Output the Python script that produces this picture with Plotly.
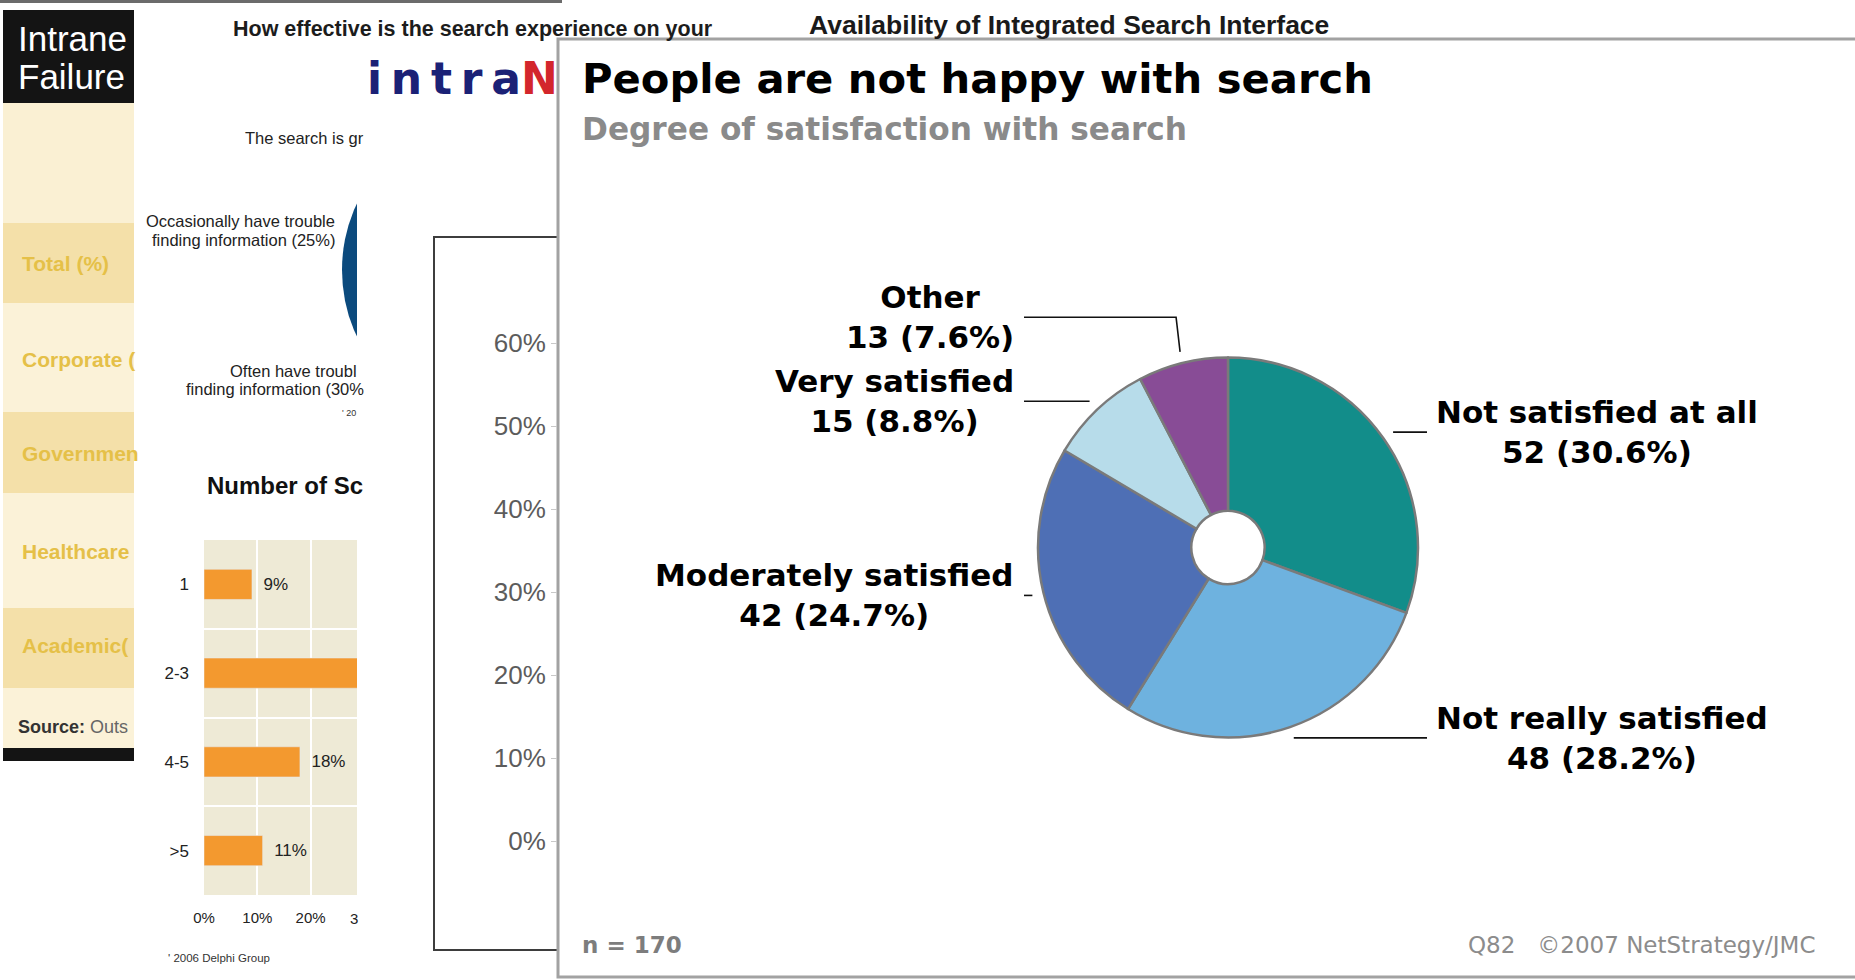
import math
import plotly.graph_objects as go

W, H = 1855, 980

# ---------------- main chart data ----------------
slice_labels = ["Not satisfied at all", "Not really satisfied", "Moderately satisfied",
                "Very satisfied", "Other"]
slice_counts = [52, 48, 42, 15, 13]
slice_colors = ["#128d8a", "#6eb2df", "#4e6fb5", "#b7dcea", "#884c96"]
main_title = "People are not happy with search"
main_subtitle = "Degree of satisfaction with search"
sample_note = "n = 170"
credit_note = "Q82   ©2007 NetStrategy/JMC"

# ---------------- background collage data ----------------
bar_categories = ["1", "2-3", "4-5", ">5"]
bar_values = [9, 62, 18, 11]
bar_tick_values = [0, 10, 20]
bar_tick_labels = ["0%", "10%", "20%"]
pct_axis_values = [0, 10, 20, 30, 40, 50, 60]
pct_axis_labels = ["0%", "10%", "20%", "30%", "40%", "50%", "60%"]
table_rows = ["Total (%)", "Corporate (", "Governmen", "Healthcare", "Academic("]
table_row_y = [263, 359, 453, 551, 645]

MAIN = "DejaVu Sans"
ARIAL = "Liberation Sans, Arial, sans-serif"
NARROW = "Liberation Sans Narrow, Arial Narrow, Liberation Sans, sans-serif"


def px(x):
    return x / W


def py(y):
    return 1 - y / H


shapes = []
annotations = []


def rect(x0, y0, x1, y1, fill, line_color="rgba(0,0,0,0)", line_width=0):
    shapes.append(dict(type="rect", xref="paper", yref="paper",
                       x0=px(x0), x1=px(x1), y0=py(y1), y1=py(y0),
                       fillcolor=fill, line=dict(color=line_color, width=line_width),
                       layer="below"))


def note(text, x, y, size, color="#000", family=MAIN, xanchor="left", align="left"):
    annotations.append(dict(text=text, x=px(x), y=py(y), xref="paper", yref="paper",
                            xanchor=xanchor, yanchor="middle", align=align, showarrow=False,
                            font=dict(size=size, color=color, family=family)))


# ---------------- background panel A (table) ----------------
rect(0, 0, 562, 3, "#6b6b6b")
rect(3, 10, 134, 103, "#141414")
bands = [(103, 223, "#faf0d3"), (223, 303, "#f4e0a9"), (303, 412, "#fbf2d8"),
         (412, 493, "#f4e0a9"), (493, 608, "#fbf2d8"), (608, 688, "#f4e0a9"),
         (688, 748, "#fbf2d8")]
for y0, y1, c in bands:
    rect(3, y0, 134, y1, c)
rect(3, 748, 134, 761, "#141414")
note("Intrane", 16, 38, 35, "white", ARIAL)
note("Failure", 16, 76, 35, "white", ARIAL)
for t, yy in zip(table_rows, table_row_y):
    note(f"<b>{t}</b>", 20, yy, 21, "#e5c048", NARROW)
note('<b>Source:</b> <span style="color:#666">Outs</span>', 16, 727, 18, "#333", ARIAL)

# ---------------- background panel B ----------------
rect(134, 8, 720, 980, "white")
rect(204, 540, 357, 895, "#eeead6")
shapes.append(dict(type="circle", xref="paper", yref="paper",
                   x0=px(499 - 157), x1=px(499 + 157), y0=py(270 + 157), y1=py(270 - 157),
                   fillcolor="#0b4a7d", line=dict(width=0), layer="below"))
note("<b>How effective is the search experience on your</b>", 231, 29, 21.5, "#1c1c1c", NARROW)
note("The search is gr", 243, 138, 16.5, "#222", ARIAL)
note("Occasionally have trouble", 337, 221, 16.5, "#222", ARIAL, xanchor="right")
note("finding information (25%)", 337, 240, 16.5, "#222", ARIAL, xanchor="right")
note("Often have troubl", 228, 371, 16.5, "#222", ARIAL)
note("finding information (30%", 184, 389, 16.5, "#222", ARIAL)
note("' 20", 340, 413, 9, "#333", ARIAL)
note("<b>Number of Sc</b>", 205, 485, 24, "#111", NARROW)
note("3", 348, 918, 15, "#222", ARIAL)
note("' 2006 Delphi Group", 166, 958, 11.5, "#333", ARIAL)

# ---------------- background panel C ----------------
rect(357, 50, 700, 980, "white")
rect(434, 237, 700, 950, "rgba(0,0,0,0)", "#3d3d3d", 2)
note("<b>i\u200a\u200an\u200a\u200at\u200a\u200ar\u200a\u200aa</b>", 365, 79, 44, "#1b2176", MAIN)
note("<b>N</b>", 519, 79, 44, "#d3262c", MAIN)
note("<b>Availability of Integrated Search Interface</b>", 807, 25, 26.5, "#1a1a1a", NARROW)

# ---------------- main panel ----------------
rect(558, 39, 1862, 977, "white", "#a2a2a2", 3)
note(f"<b>{main_title}</b>", 580, 79, 41.7, "#000")
note(f"<b>{main_subtitle}</b>", 580, 129, 31.2, "#8a8a8a")
note(f"<b>{sample_note}</b>", 580, 945, 23, "#7d7d7d")
note(credit_note, 1818, 945, 23, "#8c8c8c", xanchor="right")

# pie geometry (pixels)
cx, cy, R = 1228.0, 547.5, 190.0
total = sum(slice_counts)

# labels with leader lines derived from slice mid-angles
cum = 0
label_info = []
for lab, cnt in zip(slice_labels, slice_counts):
    mid = (cum + cnt / 2) / total
    cum += cnt
    th = 2 * math.pi * mid
    sx = cx + 1.06 * R * math.sin(th)
    sy = cy - 1.06 * R * math.cos(th)
    side = "right" if math.sin(th) > 0 else "left"
    label_info.append(dict(text=f"<b>{lab}<br>{cnt} ({cnt / total * 100:.1f}%)</b>",
                           sx=sx, sy=sy, ly=sy, side=side))

for side in ("left", "right"):
    items = sorted([d for d in label_info if d["side"] == side], key=lambda d: -d["ly"])
    for prev, cur in zip(items, items[1:]):
        if prev["ly"] - cur["ly"] < 84:
            cur["ly"] = prev["ly"] - 84

for d in label_info:
    if d["side"] == "right":
        colx, textx, anchor, dx = 1427, 1434, "left", 6
    else:
        colx, textx, anchor, dx = 1024, 1016, "right", -4
    if abs(d["ly"] - d["sy"]) < 1:
        path = f"M {px(d['sx'])},{py(d['sy'])} L {px(colx)},{py(d['sy'])}"
    else:
        path = (f"M {px(d['sx'])},{py(d['sy'])} L {px(d['sx'] + dx)},{py(d['ly'])} "
                f"L {px(colx)},{py(d['ly'])}")
    shapes.append(dict(type="path", xref="paper", yref="paper", path=path,
                       line=dict(color="#111", width=1.6), layer="above"))
    note(d["text"], textx, d["ly"], 31, "#000", MAIN, xanchor=anchor, align="center")

# background bar chart: visible x range ends where the overlapping panel starts
bar_xmax = (357 - 204) / 5.33
bar_text = [f"\u2002{v}%" if v < bar_xmax else "" for v in bar_values]

fig = go.Figure()

fig.add_trace(go.Bar(
    x=bar_values, y=bar_categories, orientation="h",
    marker=dict(color="#f3992f"), width=0.34,
    text=bar_text, textposition="outside", constraintext="none", cliponaxis=True,
    textfont=dict(size=17, color="#222", family=ARIAL),
    hoverinfo="skip", xaxis="x", yaxis="y", showlegend=False))

fig.add_trace(go.Scatter(x=[0.5], y=[30], mode="markers", marker=dict(opacity=0),
                         hoverinfo="skip", xaxis="x2", yaxis="y2", showlegend=False))

fig.add_trace(go.Pie(
    labels=slice_labels, values=slice_counts, sort=False, direction="clockwise",
    rotation=0, hole=0.193,
    marker=dict(colors=slice_colors, line=dict(color="#7a7a7a", width=2.5)),
    textinfo="none", hoverinfo="label+value+percent", showlegend=False,
    domain=dict(x=[px(cx - R), px(cx + R)], y=[py(cy + R), py(cy - R)])))

fig.update_layout(
    autosize=True, margin=dict(l=0, r=0, t=0, b=0, pad=0, autoexpand=False),
    paper_bgcolor="white", plot_bgcolor="rgba(0,0,0,0)",
    showlegend=False, shapes=shapes, annotations=annotations,
    xaxis=dict(domain=[px(204), px(357)], range=[0, bar_xmax],
               tickvals=bar_tick_values, ticktext=bar_tick_labels, automargin=False,
               showgrid=True, gridcolor="white", gridwidth=2, zeroline=False,
               showline=False, ticks="", ticklabelstandoff=12, fixedrange=True,
               tickfont=dict(size=15, color="#222", family=ARIAL), anchor="y"),
    yaxis=dict(domain=[py(895), py(540)], type="category", categoryorder="array",
               categoryarray=bar_categories, autorange="reversed", tickson="boundaries",
               showgrid=True, gridcolor="white", gridwidth=2, ticks="", showline=False,
               zeroline=False, ticklabelstandoff=14, fixedrange=True, automargin=False,
               tickfont=dict(size=17, color="#222", family=ARIAL), anchor="x"),
    xaxis2=dict(domain=[px(558), px(600)], visible=False, range=[0, 1], anchor="y2",
                fixedrange=True, automargin=False),
    yaxis2=dict(domain=[py(950), py(237)], range=[-(950 - 841) / 8.3, (841 - 237) / 8.3],
                tickmode="array", tickvals=pct_axis_values, ticktext=pct_axis_labels,
                ticks="outside", ticklen=6, automargin=False,
                tickcolor="#c8c8c8", showgrid=False, zeroline=False, showline=False,
                tickfont=dict(size=26, color="#5c5c5c", family=ARIAL), anchor="x2",
                fixedrange=True),
)

fig.write_html(
    "out.html",
    config={"displayModeBar": False},
    default_width="1855px",
    default_height="980px; position:absolute; left:0; top:0",
    post_script="document.body.style.margin='0';document.body.style.overflow='hidden';",
)
